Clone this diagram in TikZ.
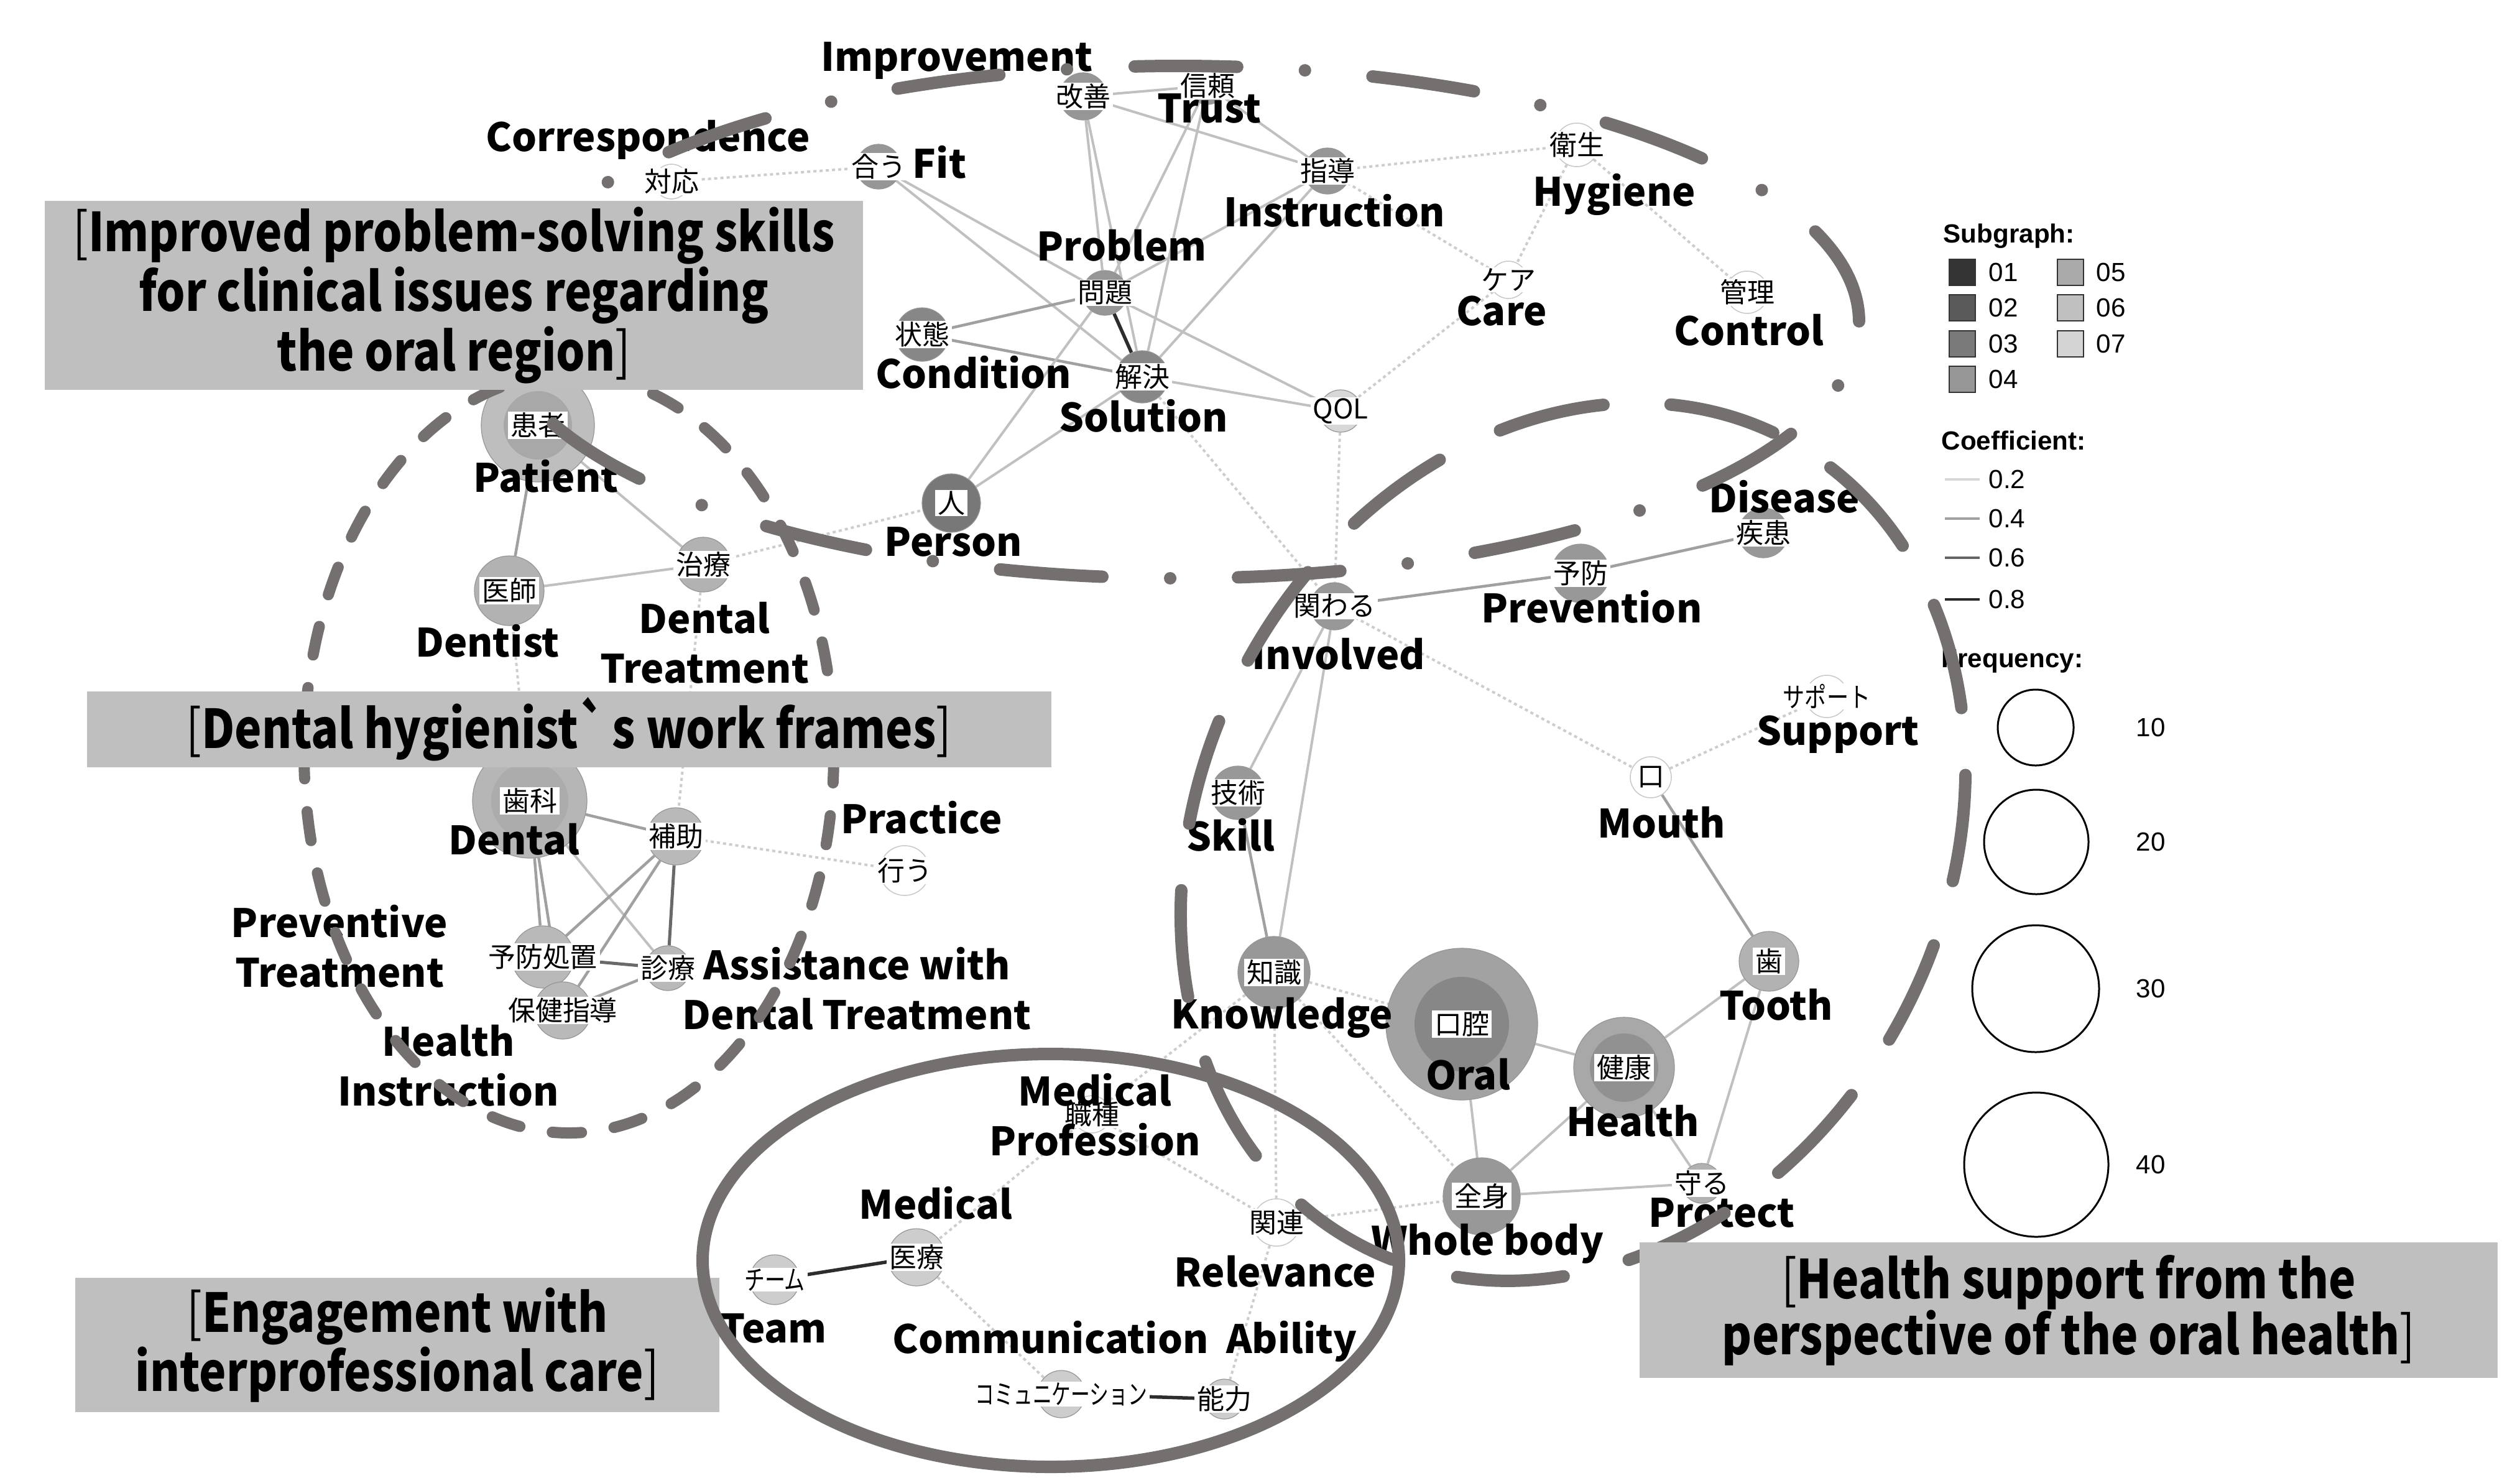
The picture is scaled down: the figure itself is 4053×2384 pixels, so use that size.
\documentclass[tikz,border=0pt]{standalone}
\usepackage{fontspec}
\newfontfamily\jpf{Noto Sans CJK JP}
\newfontfamily\jpc{Noto Sans CJK JP}[FakeStretch=0.85]
\newfontfamily\lgf{Liberation Sans}
\pgfdeclarelayer{edgelayer}
\pgfsetlayers{edgelayer,main}
\definecolor{dg}{RGB}{116,112,112}
\definecolor{boxg}{RGB}{191,191,191}
\definecolor{gA}{RGB}{150,150,150}
\definecolor{gA2}{RGB}{135,135,135}
\definecolor{gH}{RGB}{120,120,120}
\definecolor{gQ}{RGB}{215,215,215}
\definecolor{gP}{RGB}{178,178,178}
\definecolor{gPo}{RGB}{190,190,190}
\definecolor{gPi}{RGB}{168,168,168}
\definecolor{gD}{RGB}{185,185,185}
\definecolor{gDo}{RGB}{182,182,182}
\definecolor{gDi}{RGB}{172,172,172}
\definecolor{gR}{RGB}{152,152,152}
\definecolor{gR3}{RGB}{178,178,178}
\definecolor{gOo}{RGB}{162,162,162}
\definecolor{gOi}{RGB}{135,135,135}
\definecolor{gKo}{RGB}{168,168,168}
\definecolor{gKi}{RGB}{145,145,145}
\definecolor{gM}{RGB}{205,205,205}
\definecolor{ndline}{RGB}{150,150,150}
\definecolor{ltline}{RGB}{200,200,200}
\definecolor{ce2}{RGB}{192,192,192}
\definecolor{ce4}{RGB}{160,160,160}
\definecolor{ce6}{RGB}{105,105,105}
\definecolor{ce8}{RGB}{45,45,45}
\definecolor{ced}{RGB}{205,205,205}
\definecolor{sA}{RGB}{51,51,51}
\definecolor{sB}{RGB}{90,90,90}
\definecolor{sC}{RGB}{122,122,122}
\definecolor{sD}{RGB}{150,150,150}
\definecolor{sE}{RGB}{170,170,170}
\definecolor{sF}{RGB}{192,192,192}
\definecolor{sG}{RGB}{212,212,212}
\definecolor{lc2}{RGB}{215,215,215}
\definecolor{lc4}{RGB}{160,160,160}
\definecolor{lc6}{RGB}{100,100,100}
\definecolor{lc8}{RGB}{40,40,40}
\newcommand\GNode[6]{\node[nd,minimum size=#4,fill=#5] (#1) at (#2,#3) {};\node[jl] (#1-t) at (#1) {#6};}
\newcommand\LNode[5]{\node[lt,minimum size=#4] (#1) at (#2,#3) {};\node[jl] (#1-t) at (#1) {#5};}
\begin{document}
\begin{tikzpicture}[x=0.1mm,y=-0.1mm,
  nd/.style={circle,inner sep=0pt,draw=ndline,line width=0.12mm},
  lt/.style={circle,inner sep=0pt,draw=ltline,line width=0.15mm,fill=white},
  jl/.style={fill=white,inner xsep=0.4mm,inner ysep=0.15mm,font=\jpf\fontsize{12.5}{13}\selectfont},
  el/.style={font=\jpf\bfseries\fontsize{17.9}{22.8}\selectfont,align=center,inner sep=0pt},
  bt/.style={font=\jpc\bfseries\fontsize{24.5}{25.6}\selectfont,align=center,inner sep=0pt},
  boxn/.style={fill=boxg,draw=none,inner sep=0pt},
  e2/.style={draw=ce2,line width=0.4mm},
  e4/.style={draw=ce4,line width=0.45mm},
  e6/.style={draw=ce6,line width=0.5mm},
  e8/.style={draw=ce8,line width=0.55mm},
  ed/.style={draw=ced,line width=0.4mm,dash pattern=on 0.5mm off 0.5mm},
  lgh/.style={font=\lgf\bfseries\fontsize{12}{14}\selectfont,inner sep=0pt,anchor=west},
  lgt/.style={font=\lgf\fontsize{12}{14}\selectfont,inner sep=0pt},
  sq/.style={minimum size=4.2mm,inner sep=0pt,draw=black!80,line width=0.2mm},
  fq/.style={circle,draw=black,line width=0.3mm,inner sep=0pt},
  dashA/.style={draw=dg,line width=2mm,line cap=round,dash pattern=on 16.5mm off 10.9mm on 0.01mm off 10.9mm,dash phase=16.5mm},
  dashB/.style={draw=dg,line width=1.8mm,line cap=round,dash pattern=on 4.7mm off 5.3mm},
  dashC/.style={draw=dg,line width=2mm,line cap=round,dash pattern=on 17.2mm off 10.8mm,dash phase=13mm},
  solidD/.style={draw=dg,line width=2mm}
]
\useasboundingbox (0,0) rectangle (4053,2384);

% ---------- nodes: top cluster
\GNode{kaizen}{1742}{155}{7.6mm}{gA}{改善}
\GNode{shinrai}{1942}{138}{6mm}{gA}{信頼}
\GNode{au}{1413}{268}{7.2mm}{gA}{合う}
\LNode{taio}{1080}{292}{5.6mm}{対応}
\GNode{shido}{2135}{275}{7.4mm}{gA}{指導}
\LNode{eisei}{2536}{233}{7mm}{衛生}
\GNode{mondai}{1777}{471}{7.2mm}{gA}{問題}
\LNode{care}{2426}{450}{6mm}{ケア}
\LNode{kanri}{2810}{470}{6.8mm}{管理}
\GNode{jotai}{1483}{538}{8.6mm}{gA2}{状態}
\GNode{kaiketsu}{1837}{606}{8.4mm}{gA2}{解決}
\GNode{qol}{2156}{661}{6.8mm}{gQ}{QOL}
\GNode{hito}{1530}{809}{9.4mm}{gH}{人}
% ---------- patient cluster
\node[nd,minimum size=18.2mm,fill=gPo] (kanja) at (865,684) {};
\node[nd,draw=none,minimum size=11mm,fill=gPi] (kanja-in) at (kanja) {};
\node[jl] (kanja-t) at (kanja) {患者};
\GNode{ishi}{819}{950}{11.2mm}{gP}{医師}
\GNode{chiryo}{1131}{908}{8.8mm}{gP}{治療}
% ---------- dental cluster
\node[nd,minimum size=18.4mm,fill=gDo] (shika) at (852,1288) {};
\node[nd,draw=none,minimum size=12.4mm,fill=gDi] (shika-in) at (shika) {};
\node[jl] (shika-t) at (shika) {歯科};
\GNode{hojo}{1087}{1345}{9.2mm}{gD}{補助}
\LNode{okonau}{1455}{1400}{8mm}{行う}
\GNode{yobo4}{873}{1539}{10mm}{gD}{予防処置}
\GNode{hoken}{905}{1625}{9.2mm}{gD}{保健指導}
\GNode{shinryo}{1074}{1557}{7.2mm}{gD}{診療}
% ---------- right cluster
\GNode{kakawaru}{2146}{975}{7.6mm}{gR}{関わる}
\GNode{yobo}{2542}{922}{9.4mm}{gR}{予防}
\GNode{shikkan}{2836}{857}{8mm}{gR}{疾患}
\LNode{support}{2938}{1120}{6.8mm}{\scalebox{0.8}[1]{サポート}}
\LNode{kuchi}{2655}{1250}{6.6mm}{口}
\GNode{gijutsu}{1991}{1275}{8.6mm}{gR}{技術}
\GNode{chishiki}{2049}{1564}{11.6mm}{gR}{知識}
\node[nd,minimum size=24.4mm,fill=gOo] (koukuu) at (2351,1647) {};
\node[nd,draw=none,minimum size=15.2mm,fill=gOi] (koukuu-in) at (koukuu) {};
\node[jl] (koukuu-t) at (koukuu) {口腔};
\node[nd,minimum size=16.2mm,fill=gKo] (kenkou) at (2612,1717) {};
\node[nd,draw=none,minimum size=11mm,fill=gKi] (kenkou-in) at (kenkou) {};
\node[jl] (kenkou-t) at (kenkou) {健康};
\GNode{ha}{2845}{1546}{9.6mm}{gR3}{歯}
\GNode{zenshin}{2383}{1924}{12.4mm}{gR}{全身}
\GNode{mamoru}{2737}{1903}{6.4mm}{gR3}{守る}
\LNode{kanren}{2053}{1966}{7.6mm}{関連}
% ---------- medical cluster
\LNode{shokushu}{1756}{1792}{6mm}{職種}
\GNode{iryo}{1474}{2022}{9.2mm}{gM}{医療}
\GNode{team}{1246}{2058}{8mm}{gM}{\scalebox{0.75}[1]{チーム}}
\GNode{comm}{1707}{2242}{7.6mm}{gM}{\scalebox{0.7}[1]{コミュニケーション}}
\GNode{nouryoku}{1969}{2250}{6.4mm}{gM}{能力}

% ---------- edges
\begin{pgfonlayer}{edgelayer}
\draw[e2] (kaizen) -- (shinrai);
\draw[e2] (kaizen) -- (mondai);
\draw[e2] (kaizen) -- (kaiketsu);
\draw[e2] (kaizen) -- (shido);
\draw[e2] (shinrai) -- (shido);
\draw[e2] (shinrai) -- (mondai);
\draw[e2] (shinrai) -- (kaiketsu);
\draw[e2] (shido) -- (mondai);
\draw[e2] (shido) -- (kaiketsu);
\draw[e2] (au) -- (mondai);
\draw[e2] (au) -- (kaiketsu);
\draw[e4] (jotai) -- (mondai);
\draw[e4] (jotai) -- (kaiketsu);
\draw[e8] (mondai) -- (kaiketsu);
\draw[e2] (mondai) -- (qol);
\draw[e2] (kaiketsu) -- (qol);
\draw[e2] (mondai) -- (hito);
\draw[e2] (kaiketsu) -- (hito);
\draw[ed] (taio) -- (au);
\draw[ed] (shido) -- (eisei);
\draw[ed] (shido) -- (care);
\draw[ed] (eisei) -- (care);
\draw[ed] (eisei) -- (kanri);
\draw[ed] (care) -- (qol);
\draw[ed] (kaiketsu) -- (kakawaru);
\draw[ed] (qol) -- (kakawaru);
\draw[ed] (chiryo) -- (hito);
\draw[e4] (kanja) -- (ishi);
\draw[e2] (kanja) -- (chiryo);
\draw[e2] (ishi) -- (chiryo);
\draw[ed] (ishi) -- (shika);
\draw[ed] (chiryo) -- (hojo);
\draw[e4] (shika) -- (hojo);
\draw[e4] (shika) -- (yobo4);
\draw[e4] (shika) -- (hoken);
\draw[e2] (shika) -- (shinryo);
\draw[e4] (hojo) -- (yobo4);
\draw[e4] (hojo) -- (hoken);
\draw[e6] (hojo) -- (shinryo);
\draw[e6] (yobo4) -- (shinryo);
\draw[e4] (hoken) -- (shinryo);
\draw[e4] (yobo4) -- (hoken);
\draw[ed] (hojo) -- (okonau);
\draw[e4] (kakawaru) -- (yobo);
\draw[e4] (yobo) -- (shikkan);
\draw[e2] (kakawaru) -- (gijutsu);
\draw[e2] (kakawaru) -- (chishiki);
\draw[e4] (gijutsu) -- (chishiki);
\draw[e2] (koukuu) -- (kenkou);
\draw[e2] (koukuu) -- (zenshin);
\draw[e2] (kenkou) -- (zenshin);
\draw[e2] (kenkou) -- (ha);
\draw[e2] (kenkou) -- (mamoru);
\draw[e2] (ha) -- (mamoru);
\draw[e2] (zenshin) -- (mamoru);
\draw[e4] (kuchi) -- (ha);
\draw[ed] (kakawaru) -- (kuchi);
\draw[ed] (kuchi) -- (support);
\draw[ed] (chishiki) -- (koukuu);
\draw[ed] (chishiki) -- (kanren);
\draw[ed] (chishiki) -- (shokushu);
\draw[ed] (chishiki) -- (zenshin);
\draw[ed] (kanren) -- (zenshin);
\draw[e8] (iryo) -- (team);
\draw[e8] (comm) -- (nouryoku);
\draw[ed] (shokushu) -- (iryo);
\draw[ed] (shokushu) -- (kanren);
\draw[ed] (iryo) -- (comm);
\draw[ed] (kanren) -- (nouryoku);
\end{pgfonlayer}

% ---------- English labels
\node[el] (l-improvement) at (1539,98) {Improvement};
\node[el] (l-trust) at (1945,174) {Trust};
\node[el] (l-fit) at (1511,261) {Fit};
\node[el] (l-corr) at (1042,225) {Correspondence};
\node[el] (l-instr) at (2146,339) {Instruction};
\node[el] (l-hyg) at (2596,313) {Hygiene};
\node[el] (l-problem) at (1804,395) {Problem};
\node[el] (l-care) at (2415,500) {Care};
\node[el] (l-control) at (2813,531) {Control};
\node[el] (l-cond) at (1566,599) {Condition};
\node[el] (l-sol) at (1839,669) {Solution};
\node[el] (l-person) at (1533,871) {Person};
\node[el] (l-patient) at (878,766) {Patient};
\node[el] (l-dentist) at (784,1031) {Dentist};
\node[el] (l-dtreat) at (1133,1034) {Dental\\Treatment};
\node[el] (l-dental) at (827,1350) {Dental};
\node[el] (l-practice) at (1482,1315) {Practice};
\node[el] (l-prev) at (546,1522) {Preventive\\Treatment};
\node[el] (l-assist) at (1378,1590) {Assistance with\\Dental Treatment};
\node[el] (l-hinstr) at (721,1714) {Health\\Instruction};
\node[el] (l-involved) at (2153,1052) {Involved};
\node[el] (l-prevention) at (2560,976) {Prevention};
\node[el] (l-disease) at (2870,799) {Disease};
\node[el] (l-support) at (2956,1181) {Support};
\node[el] (l-mouth) at (2672,1323) {Mouth};
\node[el] (l-skill) at (1979,1343) {Skill};
\node[el] (l-know) at (2062,1637) {Knowledge};
\node[el] (l-oral) at (2361,1728) {Oral};
\node[el] (l-health) at (2626,1803) {Health};
\node[el] (l-tooth) at (2857,1616) {Tooth};
\node[el] (l-whole) at (2392,2000) {Whole body};
\node[el] (l-protect) at (2769,1950) {Protect};
\node[el] (l-relev) at (2051,2045) {Relevance};
\node[el] (l-medprof) at (1761,1793) {Medical\\Profession};
\node[el] (l-medical) at (1505,1935) {Medical};
\node[el] (l-team) at (1244,2136) {Team};
\node[el] (l-comm) at (1809,2157) {Communication\ \ Ability};

% ---------- legend
\node[lgh] (lg-sub) at (3125,380) {Subgraph:};
\node[sq,fill=sA] (sq1) at (3156,438) {};
\node[sq,fill=sB] (sq2) at (3156,495) {};
\node[sq,fill=sC] (sq3) at (3156,553) {};
\node[sq,fill=sD] (sq4) at (3156,610) {};
\node[sq,fill=sE] (sq5) at (3330,438) {};
\node[sq,fill=sF] (sq6) at (3330,495) {};
\node[sq,fill=sG] (sq7) at (3330,553) {};
\node[lgt,anchor=west] (sq1-t) at (3198,438) {01};
\node[lgt,anchor=west] (sq2-t) at (3198,495) {02};
\node[lgt,anchor=west] (sq3-t) at (3198,553) {03};
\node[lgt,anchor=west] (sq4-t) at (3198,610) {04};
\node[lgt,anchor=west] (sq5-t) at (3371,438) {05};
\node[lgt,anchor=west] (sq6-t) at (3371,495) {06};
\node[lgt,anchor=west] (sq7-t) at (3371,553) {07};
\node[lgh] (lg-coef) at (3122,708) {Coefficient:};
\draw[lc2,line width=0.35mm] (3128,771) -- (3184,771);
\draw[lc4,line width=0.35mm] (3128,834) -- (3184,834);
\draw[lc6,line width=0.35mm] (3128,897) -- (3184,897);
\draw[lc8,line width=0.35mm] (3128,964) -- (3184,964);
\node[lgt,anchor=west] (c2-t) at (3198,771) {0.2};
\node[lgt,anchor=west] (c4-t) at (3198,834) {0.4};
\node[lgt,anchor=west] (c6-t) at (3198,897) {0.6};
\node[lgt,anchor=west] (c8-t) at (3198,964) {0.8};
\node[lgh] (lg-freq) at (3122,1063) {Frequency:};
\node[fq,minimum size=12.2mm] (f10) at (3274,1170) {};
\node[fq,minimum size=16.8mm] (f20) at (3275,1354) {};
\node[fq,minimum size=20.4mm] (f30) at (3274,1590) {};
\node[fq,minimum size=23.2mm] (f40) at (3275,1873) {};
\node[lgt] (f10-t) at (3459,1170) {10};
\node[lgt] (f20-t) at (3459,1354) {20};
\node[lgt] (f30-t) at (3459,1590) {30};
\node[lgt] (f40-t) at (3459,1873) {40};

% ---------- dashed group outlines
\draw[dashA] (1895,518) ellipse [x radius=1095, y radius=412];
\draw[dashB] (915,1212) ellipse [x radius=426, y radius=610];
\draw[dashC, shift={(2530,1354)}, rotate=-28] (0,0) ellipse [x radius=599, y radius=733];

% ---------- category boxes
\node[boxn,bt,minimum width=131.6mm,minimum height=30.4mm] (box1) at (730,475)
  {{\mdseries[}Improved problem-solving skills\\for clinical issues regarding\\the oral region{\mdseries]}};
\node[boxn,bt,minimum width=155.1mm,minimum height=12.2mm] (box2) at (915,1173)
  {{\mdseries[}Dental hygienist\textasciigrave s work frames{\mdseries]}};
\node[boxn,bt,minimum width=103.6mm,minimum height=21.6mm] (box3) at (639,2163)
  {{\mdseries[}Engagement with\\interprofessional care{\mdseries]}};
\node[boxn,bt,minimum width=138mm,minimum height=21.8mm] (box4) at (3327,2107)
  {{\mdseries[}Health support from the\\perspective of the oral health{\mdseries]}};

% ---------- solid outline
\draw[solidD] (1690,2027) ellipse [x radius=560, y radius=332];
\end{tikzpicture}
\end{document}
